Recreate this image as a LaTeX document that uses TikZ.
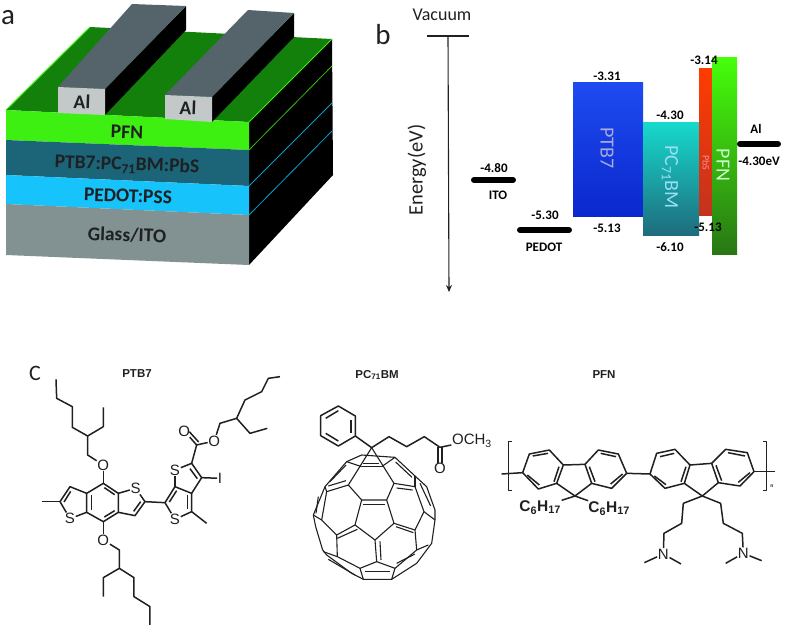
\documentclass[tikz,border=0pt]{standalone}
\usepackage{fontspec}
\setmainfont{Carlito}
\newfontfamily\chemfont{Liberation Sans}
\usetikzlibrary{arrows.meta}

\definecolor{topgreen}{RGB}{18,128,10}
\definecolor{pfngreen}{RGB}{62,240,18}
\definecolor{blendteal}{RGB}{28,100,120}
\definecolor{pedotblue}{RGB}{22,195,250}
\definecolor{glassgray}{RGB}{130,146,146}
\definecolor{algray}{RGB}{195,200,200}
\definecolor{altop}{RGB}{84,100,106}
\definecolor{inkdark}{RGB}{30,32,34}

\tikzset{
    bond/.style={line width=1.5pt, color=inkdark, line join=round},
    thinbond/.style={line width=1.1pt, color=inkdark, line join=round},
    atom/.style={inner sep=0.6pt, font=\chemfont\fontsize{15}{15}\selectfont, color=inkdark},
    chain/.style={atom, font=\chemfont\bfseries\fontsize{15.5}{15.5}\selectfont},
    panel/.style={inner sep=0pt, font=\fontsize{29}{29}\selectfont, color=inkdark},
    layer/.style={inner sep=0pt, rotate=-2, font=\bfseries\fontsize{19.5}{19.5}\selectfont, color=inkdark},
    level/.style={inner sep=0pt, font=\bfseries\fontsize{13}{13}\selectfont, color=black},
    bandtext/.style={inner sep=0pt, rotate=-90, font=\fontsize{20}{20}\selectfont},
    bar/.style={line width=6pt, line cap=round, black},
    molname/.style={inner sep=0pt, font=\chemfont\bfseries\fontsize{11.5}{11.5}\selectfont, color=inkdark},
}

\begin{document}
\begin{tikzpicture}[x=1pt,y=-1pt]
    \useasboundingbox (0,0) rectangle (786,630);

    % device stack
    \fill[black] (249,122) -- (332,39) -- (333,175) -- (249,265) -- cycle;
    \fill[topgreen] (6,110) -- (90,27) -- (332,39) -- (249,122) -- cycle;
    \fill[pfngreen] (6,110) -- (249,122) -- (249,150) -- (6,140) -- cycle;
    \fill[blendteal] (6,140) -- (249,150) -- (249,186) -- (6,175) -- cycle;
    \fill[pedotblue] (6,175) -- (249,186) -- (249,215) -- (6,204) -- cycle;
    \fill[glassgray] (6,204) -- (249,215) -- (249,265) -- (6,255) -- cycle;
    \draw[pfngreen, line width=1pt] (6,110) -- (90,27);
    \draw[pfngreen, line width=1pt] (332,39) -- (249,122);
    \draw[pfngreen!80!black, line width=0.8pt] (249,150) -- (332,66);
    \draw[pedotblue!80!black, line width=0.8pt] (249,186) -- (332,103);
    \draw[pedotblue!80!black, line width=0.8pt] (249,215) -- (332,131);

    % aluminium strips
    \fill[black] (105,89) -- (186,6) -- (186,30) -- (105,115) -- cycle;
    \fill[altop] (58,87) -- (132,4) -- (186,6) -- (105,89) -- cycle;
    \fill[algray] (58,87) -- (105,89) -- (105,115) -- (58,113) -- cycle;
    \fill[black] (212,97) -- (294,13) -- (294,37) -- (212,122) -- cycle;
    \fill[altop] (165,95) -- (248,10) -- (294,13) -- (212,97) -- cycle;
    \fill[algray] (165,95) -- (212,97) -- (212,122) -- (165,119) -- cycle;

    \node[panel] (lbla) at (8,18) {a};
    \node[layer] (al1) at (82,102) {Al};
    \node[layer] (al2) at (188,108) {Al};
    \node[layer] (pfnlayer) at (127,132) {PFN};
    \node[layer] (blend) at (127,165) {PTB7:PC\textsubscript{71}BM:PbS};
    \node[layer] (pedotlayer) at (128,196) {PEDOT:PSS};
    \node[layer] (glass) at (127,235) {Glass/ITO};

    % energy levels
    \node[panel] (lblb) at (383,35) {b};
    \node[inner sep=0pt, font=\fontsize{18}{18}\selectfont, color=inkdark] (vac) at (442,15) {Vacuum};
    \coordinate (vacl) at (427,36);
    \coordinate (vacr) at (469,36);
    \coordinate (vactop) at (448,36);
    \coordinate (vacend) at (449,292);
    \draw[inkdark, line width=1.2pt] (vacl) -- (vacr);
    \draw[inkdark, line width=1.1pt, -{Stealth[length=7pt,width=6pt]}] (vactop) -- (vacend);
    \node[inner sep=0pt, rotate=90, font=\fontsize{20.5}{20.5}\selectfont, color=inkdark] (energy) at (417,170) {Energy(eV)};

    \shade[top color={rgb,255:red,30;green,75;blue,240}, bottom color={rgb,255:red,10;green,40;blue,205}] (573,82) rectangle (643,216);
    \shade[top color={rgb,255:red,22;green,218;blue,205}, bottom color={rgb,255:red,30;green,108;blue,125}] (643,122) rectangle (699,235);
    \shade[top color={rgb,255:red,255;green,60;blue,0}, bottom color={rgb,255:red,195;green,50;blue,30}] (699,68) rectangle (712,215);
    \shade[top color={rgb,255:red,70;green,255;blue,10}, bottom color={rgb,255:red,40;green,118;blue,20}] (712,57) rectangle (737,254);

    \node[bandtext, color=cyan!25!blue!35!white] (ptb) at (607,148) {PTB7};
    \node[bandtext, color=cyan!40!white] (pcbm) at (670,177) {PC\textsubscript{71}BM};
    \node[bandtext, color=red!45!white, font=\fontsize{10}{10}\selectfont] (pbs) at (706,163) {PbS};
    \node[bandtext, color=green!20!white] (pfn) at (723,165) {PFN};

    \coordinate (itol) at (474,180);
    \coordinate (itor) at (513,180);
    \coordinate (pedl) at (520,230);
    \coordinate (pedr) at (569,230);
    \coordinate (alvl) at (740,144);
    \coordinate (alvr) at (778,144);
    \draw[bar] (itol) -- (itor);
    \draw[bar] (pedl) -- (pedr);
    \draw[bar] (alvl) -- (alvr);

    \node[level] (e1) at (494,168) {-4.80};
    \node[level] (e2) at (498,195) {ITO};
    \node[level] (e3) at (545,215) {-5.30};
    \node[level] (e4) at (544,247) {PEDOT};
    \node[level] (e5) at (607,76) {-3.31};
    \node[level] (e6) at (607,228) {-5.13};
    \node[level] (e7) at (670,115) {-4.30};
    \node[level] (e8) at (670,247) {-6.10};
    \node[level] (e9) at (704,60) {-3.14};
    \node[level] (e10) at (708,227) {-5.13};
    \node[level] (e11) at (756,129) {Al};
    \node[level] (e12) at (759,161) {-4.30eV};

    % PTB7
    \node[panel, font=\fontsize{22}{22}\selectfont] (lblc) at (35,373) {C};
    \node[molname] (nameptb) at (137,374) {PTB7};
    \begin{scope}[shift={(20,350)},x=0.3333pt,y=-0.3333pt]
        \node[atom] (o1) at (250,345) {O};
        \node[atom] (o2) at (250,570) {O};
        \node[atom] (s1) at (150,506) {S};
        \node[atom] (s2) at (347,415) {S};
        \node[atom] (s3) at (465,360) {S};
        \node[atom] (s4) at (465,508) {S};
        \node[atom] (i1) at (600,385) {I};
        \node[atom] (o3) at (493,243) {O};
        \node[atom] (o4) at (583,273) {O};
        \draw[bond] (108,88) -- (110,145) -- (157,170) -- (157,232) -- (203,258) -- (203,315) -- (o1);
        \draw[bond] (203,258) -- (250,230) -- (250,172);
        \draw[bond] (o1) -- (250,400);
        \draw[bond] (250,400) -- (295,430) -- (295,487) -- (250,515) -- (200,487) -- (200,430) -- cycle;
        \draw[bond] (250,515) -- (o2);
        \draw[bond] (o2) -- (298,600) -- (298,655) -- (250,683) -- (250,740);
        \draw[bond] (298,655) -- (342,683) -- (342,740) -- (390,770) -- (390,825);
        \draw[bond] (200,430) -- (150,410) -- (120,455) -- (s1);
        \draw[bond] (s1) -- (200,487);
        \draw[bond] (120,455) -- (65,455);
        \draw[bond] (295,430) -- (s2);
        \draw[bond] (s2) -- (375,455) -- (345,497) -- (295,487);
        \draw[bond] (375,455) -- (435,458) -- (465,410) -- (515,430) -- (515,485) -- (s4);
        \draw[bond] (s4) -- (435,458);
        \draw[bond] (515,485) -- (560,520);
        \draw[bond] (465,410) -- (s3);
        \draw[bond] (s3) -- (515,340) -- (545,383) -- (515,430);
        \draw[bond] (545,383) -- (i1);
        \draw[bond] (515,340) -- (530,285) -- (o4);
        \draw[bond] (530,285) -- (o3);
        \draw[bond] (536,276) -- (508,245);
        \draw[bond] (o4) -- (600,220) -- (650,205) -- (675,150) -- (725,125) -- (745,85) -- (780,80);
        \draw[bond] (650,205) -- (690,250) -- (742,235);
        \draw[bond] (253,413) -- (284,434);
        \draw[bond] (214,436) -- (214,480);
        \draw[bond] (253,501) -- (284,482);
        \draw[bond] (152,424) -- (132,456);
        \draw[bond] (362,455) -- (341,484);
        \draw[bond] (448,456) -- (470,422);
        \draw[bond] (503,436) -- (503,478);
        \draw[bond] (510,356) -- (532,386);
    \end{scope}

    % PC71BM
    \node[molname] (namepcbm) at (377,375) {PC\textsubscript{71}BM};
    \begin{scope}[shift={(280,350)},x=0.3333pt,y=-0.3333pt]
        \node[atom] (o5) at (480,355) {O};
        \node[atom, anchor=west] (och) at (514,272) {OCH\textsubscript{3}};
        \draw[bond] (175,168) -- (226,198) -- (226,258) -- (175,288) -- (122,257) -- (122,197) -- cycle;
        \draw[bond] (137,205) -- (175,182);
        \draw[bond] (213,210) -- (213,248);
        \draw[bond] (137,250) -- (175,273);
        \draw[bond] (226,258) -- (275,293) -- (327,260) -- (380,290) -- (433,260) -- (480,292) -- (och);
        \draw[bond] (474,292) -- (474,340);
        \draw[bond] (486,292) -- (486,340);
        \draw[thinbond] (200,335) -- (245,315) -- (345,322) -- (405,378) -- (440,410) -- (465,480) -- (465,510) -- (455,580) -- (410,640) -- (335,688) -- (250,688) -- (215,670) -- (140,615) -- (128,600) -- (107,530) -- (100,495) -- (135,410) -- cycle;
        \draw[thinbond] (245,450) -- (320,450) -- (342,520) -- (285,570) -- (225,525) -- cycle;
        \draw[thinbond] (275,293) -- (205,405) -- (245,450);
        \draw[thinbond] (275,293) -- (342,400) -- (320,450);
        \draw[thinbond] (245,350) -- (305,350);
        \draw[thinbond] (250,340) -- (298,340);
        \draw[thinbond] (200,335) -- (245,350);
        \draw[thinbond] (305,350) -- (345,322);
        \draw[thinbond] (205,405) -- (140,425) -- (135,410);
        \draw[thinbond] (140,425) -- (125,510) -- (100,495);
        \draw[thinbond] (125,510) -- (170,555) -- (225,525);
        \draw[thinbond] (170,555) -- (172,620) -- (240,655) -- (290,635) -- (285,570);
        \draw[thinbond] (172,620) -- (130,605);
        \draw[thinbond] (290,635) -- (345,655) -- (410,600) -- (405,540) -- (342,520);
        \draw[thinbond] (240,655) -- (250,688);
        \draw[thinbond] (345,655) -- (335,688);
        \draw[thinbond] (405,540) -- (432,485) -- (405,410) -- (342,400);
        \draw[thinbond] (405,378) -- (405,410);
        \draw[thinbond] (432,485) -- (465,510);
        \draw[thinbond] (410,600) -- (445,585);
        \draw[thinbond] (250,464) -- (316,464);
        \draw[thinbond] (232,538) -- (172,565);
        \draw[thinbond] (348,530) -- (400,548);
        \draw[thinbond] (300,574) -- (303,630);
        \draw[thinbond] (350,414) -- (398,420);
        \draw[thinbond] (150,395) -- (198,345);
        \draw[thinbond] (145,408) -- (198,392);
        \draw[thinbond] (347,336) -- (396,382);
        \draw[thinbond] (420,400) -- (452,468);
        \draw[thinbond] (115,440) -- (108,490);
        \draw[thinbond] (145,628) -- (225,675);
        \draw[thinbond] (350,640) -- (405,612);
        \draw[thinbond] (255,665) -- (330,665);
    \end{scope}

    % PFN
    \node[molname] (namepfn) at (604,375) {PFN};
    \begin{scope}[shift={(490,400)},x=0.3333pt,y=-0.3333pt]
        \node[atom] (n1) at (520,462) {N};
        \node[atom] (n2) at (760,460) {N};
        \node[chain, anchor=east] (c1) at (215,322) {C\textsubscript{6}H\textsubscript{17}};
        \node[chain, anchor=west] (c2) at (293,325) {C\textsubscript{6}H\textsubscript{17}};
        \node[atom, font=\chemfont\bfseries\fontsize{5}{5}\selectfont] (poly) at (846,259) {n};
        \draw[bond] (65,125) -- (55,125) -- (55,272) -- (65,272);
        \draw[bond] (820,125) -- (830,125) -- (830,272) -- (820,272);
        \draw[bond] (35,222) -- (98,218);
        \draw[bond] (98,218) -- (118,162) -- (178,150) -- (220,195) -- (200,250) -- (145,267) -- cycle;
        \draw[bond] (220,195) -- (285,193) -- (305,250) -- (255,288) -- (200,250);
        \draw[bond] (285,193) -- (325,150) -- (385,162) -- (410,220) -- (365,265) -- (305,250);
        \draw[bond] (410,220) -- (480,222);
        \draw[bond] (480,222) -- (500,160) -- (555,148) -- (600,195) -- (583,250) -- (525,265) -- cycle;
        \draw[bond] (600,195) -- (665,190) -- (685,248) -- (637,288) -- (583,250);
        \draw[bond] (665,190) -- (707,148) -- (772,158) -- (792,215) -- (750,258) -- (685,248);
        \draw[bond] (792,215) -- (855,215);
        \draw[bond] (255,288) -- (c1);
        \draw[bond] (255,288) -- (c2);
        \draw[bond] (637,288) -- (580,310) -- (575,370) -- (522,400) -- (n1);
        \draw[bond] (n1) -- (463,488);
        \draw[bond] (n1) -- (573,492);
        \draw[bond] (637,288) -- (692,310) -- (700,370) -- (757,400) -- (n2);
        \draw[bond] (n2) -- (707,490);
        \draw[bond] (n2) -- (815,482);
        \draw[bond] (128,168) -- (174,160);
        \draw[bond] (207,200) -- (192,245);
        \draw[bond] (112,225) -- (148,255);
        \draw[bond] (298,200) -- (315,245);
        \draw[bond] (332,160) -- (378,170);
        \draw[bond] (398,222) -- (362,252);
        \draw[bond] (510,170) -- (553,160);
        \draw[bond] (588,200) -- (573,245);
        \draw[bond] (493,228) -- (528,254);
        \draw[bond] (678,196) -- (695,242);
        \draw[bond] (714,158) -- (765,168);
        \draw[bond] (780,218) -- (745,247);
    \end{scope}
\end{tikzpicture}
\end{document}
